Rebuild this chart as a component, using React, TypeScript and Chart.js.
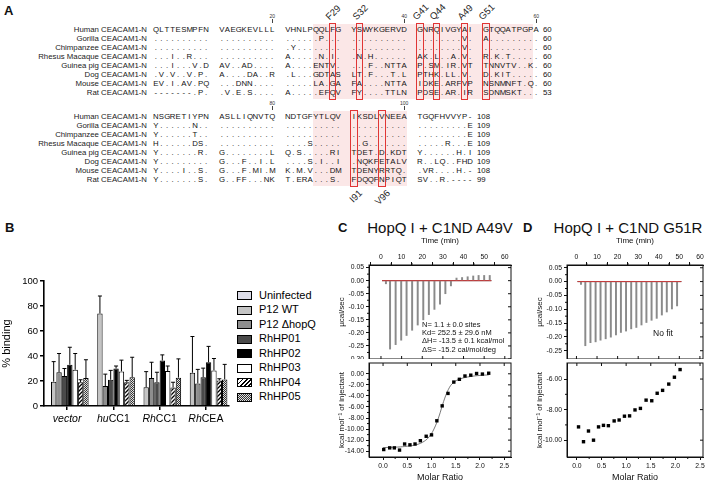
import React, { useEffect, useRef } from "react";
import { Chart, registerables } from "chart.js";
Chart.register(...registerables);

const FONT = "'Liberation Sans', Arial, Helvetica, sans-serif";

// ---------------- Panel A : alignment ----------------
const speciesNames = [
  "Human CEACAM1-N",
  "Gorilla CEACAM1-N",
  "Chimpanzee CEACAM1-N",
  "Rhesus Macaque CEACAM1-N",
  "Guinea pig CEACAM1-N",
  "Dog CEACAM1-N",
  "Mouse CEACAM1-N",
  "Rat CEACAM1-N",
];
const block1Seqs = [
  "QLTTESMPFN VAEGKEVLLL VHNLPQQLFG YSWYKGERVD GNRQIVGYAI GTQQATPGPA",
  ".......... .......... ......P... .......... ........V. A.........",
  ".......... .......... .Y........ .......... ........V. ..........",
  "...I..R... .......... A.....N.I. .N.H...... AK.L..A.V. R.K.T.....",
  "...I...V.D AV..AD.... A....ENTV. ...F..NTTA P.SM.IR.VT TNNVTV..K.",
  ".V.V..V.P. A....DA..R .L...GDTAS LT.F...T.L PTHK.LL.V. D.KIT.....",
  "EV.I.AV.PQ ...DNN.... .....LA.GA FA....NTTA IDKE.ARFVP NSNMNFT.Q.",
  "-------.P. .V.E.S.... A.....EFQV FY....TTLN PDSE.AR.IR SDNMSKT...",
];
const block1Counts = ["60", "60", "60", "60", "60", "60", "60", "53"];
const block2Seqs = [
  "NSGRETIYPN ASLLIQNVTQ NDTGFYTLQV IKSDLVNEEA TGQFHVVYP-",
  "Y......N.. .......... .......... .......... .........E",
  "Y......T.. .......... .......... .......... .........E",
  "H......DS. .......... ....S..... ..G....... .....R...E",
  "Y.......R. G........L Q.S.....RI TDET.D.KDT Y......H.I",
  "Y......... G...F..I.L ....S.I..I .NQKFETALV R..LQ..FHD",
  "Y....I..S. G...F.MI.M K.M.V...DM TDENYRRTQ. .VR....H.-",
  "Y.......S. G..FF...NK T.ERA...S. FDQQFNPIQT SV..R.----",
];
const block2Counts = ["108", "109", "109", "109", "109", "109", "108", "99"];
const block1Markers = [20, 40, 60];
const block2Markers = [80, 100];
const topSites = ["F29", "S32", "G41", "Q44", "A49", "G51"];
const bottomSites = ["I91", "V96"];

// ---------------- Panel B : binding ----------------
const bCatItalic = ["vector", "hu", "Rh", "Rh"];
const bCatPlain = ["", "CC1", "CC1", "CEA"];
const bSeriesNames = ["Uninfected", "P12 WT", "P12 ΔhopQ", "RhHP01", "RhHP02", "RhHP03", "RhHP04", "RhHP05"];
const uninfectedVals = [0.8, 0.8, 0.8, 0.8];
const uninfectedSD = [0, 0, 0, 0];
const p12wtVals = [19.5, 74, 15, 26.6];
const p12wtSD = [16, 14, 12.5, 29];
const p12dVals = [27, 16, 22.4, 18];
const p12dSD = [15, 9.5, 12.6, 11.3];
const hp01Vals = [24, 21, 19, 23];
const hp01SD = [6, 7.5, 8, 7.3];
const hp02Vals = [33, 30, 36.4, 35];
const hp02SD = [14, 2, 4.5, 12.7];
const hp03Vals = [29, 27.7, 28, 28.5];
const hp03SD = [13, 9, 4, 9.5];
const hp04Vals = [19, 19, 14.8, 20.5];
const hp04SD = [2, 1.5, 4.2, 1.3];
const hp05Vals = [22.4, 23, 22.7, 21.3];
const hp05SD = [14.6, 16, 15, 12];
const bYTicks = [0, 20, 40, 60, 80, 100];

// ---------------- ITC tick labels ----------------
const timeTicks = [0, 10, 20, 30, 40, 50, 60];
const molarTicks = [0, 0.5, 1.0, 1.5, 2.0, 2.5];
const cTopYTicks = [0.05, 0.0, -0.05, -0.1, -0.15, -0.2, -0.25, -0.3];
const cBotYTicks = [0, -2, -4, -6, -8, -10, -12, -14];
const dTopYTicks = [0.05, 0.0, -0.05, -0.1, -0.15, -0.2, -0.25];
const dBotYTicks = [-6, -8, -10];

// ---------------- Panel C : A49V ITC ----------------
const cInjTimes = [2.4, 4.4, 7.1, 9.8, 12.4, 15.1, 17.8, 20.5, 23.2, 25.9, 28.6, 31.2, 33.9, 36.6, 39.3, 42.0, 44.7, 47.3, 50.0, 52.7];
const cPeaks = [-0.012, -0.262, -0.245, -0.228, -0.21, -0.19, -0.17, -0.15, -0.13, -0.11, -0.09, -0.05, -0.02, 0.01, 0.012, 0.015, 0.018, 0.02, 0.02, 0.02];
const cBaseline = [0.5, 53.5];
const cMolar = [0.014, 0.137, 0.233, 0.34, 0.445, 0.555, 0.66, 0.77, 0.89, 1.0, 1.11, 1.22, 1.34, 1.46, 1.575, 1.69, 1.81, 1.93, 2.05, 2.18];
const cHeat = [-13.7, -13.4, -13.4, -13.8, -12.7, -12.85, -12.7, -12.1, -11.3, -11.05, -8.5, -5.8, -3.55, -1.5, -1.0, -0.4, -0.25, 0.05, -0.05, 0.1];
const cFitX = [0.0, 0.3, 0.5, 0.7, 0.85, 0.95, 1.05, 1.15, 1.25, 1.35, 1.45, 1.6, 1.8, 2.0, 2.18];
const cFitY = [-13.35, -13.25, -13.1, -12.8, -12.2, -11.4, -10.0, -7.8, -5.0, -2.8, -1.6, -0.9, -0.5, -0.3, -0.2];
const cStats = [
  "N= 1.1 ± 0.0 sites",
  "Kd= 252.5 ± 29.6 nM",
  "ΔH= -13.5 ± 0.1 kcal/mol",
  "ΔS= -15.2 cal/mol/deg",
];

// ---------------- Panel D : G51R ITC ----------------
const dInjTimes = [2.2, 4.3, 6.8, 9.3, 11.7, 14.2, 16.7, 19.2, 21.6, 24.1, 26.6, 29.1, 31.6, 34.0, 36.5, 39.0, 41.5, 43.9, 46.4, 48.9];
const dPeaks = [-0.01, -0.232, -0.221, -0.218, -0.212, -0.207, -0.201, -0.193, -0.184, -0.179, -0.171, -0.166, -0.157, -0.148, -0.14, -0.133, -0.121, -0.11, -0.099, -0.088];
const dBaseline = [0.5, 51];
const dMolar = [0.034, 0.135, 0.236, 0.338, 0.44, 0.54, 0.64, 0.757, 0.858, 0.966, 1.07, 1.18, 1.29, 1.405, 1.52, 1.63, 1.74, 1.865, 1.98, 2.095];
const dHeat = [-9.13, -10.1, -9.4, -10.0, -9.13, -9.03, -9.05, -8.74, -8.68, -8.43, -8.41, -8.02, -7.92, -7.38, -7.42, -6.93, -6.74, -6.33, -5.88, -5.38];

// ---------------- layout constants ----------------
const CHAR_W = 5.6;
const GROUP_W = 66;
const SEQ_X = 153;
const NAME_RIGHT = 147;
const ROW_H = 9;
const B1_Y = 30;
const B2_Y = 117;
const TICK_FONT = 6.8;

function colX(c: number) {
  return SEQ_X + Math.floor(c / 10) * GROUP_W + (c % 10) * CHAR_W;
}

const framePlugin = {
  id: "frame",
  afterDraw(chart: any) {
    const { ctx, chartArea: a } = chart;
    const xs = chart.scales.x;
    const ys = chart.scales.y;
    ctx.save();
    ctx.strokeStyle = "#111";
    ctx.lineWidth = 1;
    ctx.strokeRect(a.left, a.top, a.right - a.left, a.bottom - a.top);
    ctx.beginPath();
    const xv = xs.ticks.map((t: any) => t.value);
    const yv = ys.ticks.map((t: any) => t.value);
    xv.forEach((v: number, i: number) => {
      const px = xs.getPixelForValue(v);
      const yEdge = xs.position === "top" ? a.bottom : a.top;
      const dir = xs.position === "top" ? -1 : 1;
      ctx.moveTo(px, yEdge);
      ctx.lineTo(px, yEdge + dir * 3);
      if (i < xv.length - 1) {
        const pm = xs.getPixelForValue((v + xv[i + 1]) / 2);
        const edgeOut = xs.position === "top" ? a.top : a.bottom;
        const dOut = xs.position === "top" ? -1 : 1;
        ctx.moveTo(pm, edgeOut);
        ctx.lineTo(pm, edgeOut + dOut * 2);
      }
    });
    yv.forEach((v: number, i: number) => {
      const py = ys.getPixelForValue(v);
      ctx.moveTo(a.right, py);
      ctx.lineTo(a.right - 3, py);
      if (i < yv.length - 1) {
        const pm = ys.getPixelForValue((v + yv[i + 1]) / 2);
        ctx.moveTo(a.left, pm);
        ctx.lineTo(a.left - 2, pm);
      }
    });
    ctx.stroke();
    // y tick labels
    ctx.fillStyle = "#111";
    ctx.font = `${TICK_FONT}px ${FONT}`;
    ctx.textAlign = "right";
    ctx.textBaseline = "middle";
    yv.forEach((v: number) => {
      ctx.fillText(v.toFixed(2), a.left - 5, ys.getPixelForValue(v));
    });
    ctx.restore();
  },
};

function itcTop(times: number[], peaks: number[], base: number[], yTicks: number[], xmin: number, xmax: number, ymin: number, ymax: number, padRight: number): any {
  const tickFont = { size: TICK_FONT, family: FONT };
  return {
    type: "bar",
    data: {
      datasets: [
        { type: "line", data: base.map((t) => ({ x: t, y: 0 })), borderColor: "#222", borderWidth: 1, pointRadius: 0, order: 2 },
        { type: "bar", data: times.map((t, i) => ({ x: t, y: [0, peaks[i]] })), backgroundColor: "#8a8a8a", barThickness: 1.3, order: 1 },
        { type: "line", data: base.map((t) => ({ x: t, y: 0 })), borderColor: "#e04040", borderWidth: 0.9, pointRadius: 0, order: 0 },
      ],
    },
    options: {
      responsive: false,
      animation: false,
      layout: { padding: { top: 0, bottom: 0, left: 0, right: padRight } },
      plugins: { legend: { display: false }, tooltip: { enabled: false } },
      scales: {
        x: {
          type: "linear", position: "top", min: xmin, max: xmax, offset: false,
          afterBuildTicks: (s: any) => { s.ticks = timeTicks.map((v) => ({ value: v })); },
          ticks: { autoSkip: false, font: tickFont, color: "#111", maxRotation: 0, padding: 1 },
          grid: { drawOnChartArea: false, tickLength: 3, color: "#111" },
          border: { color: "#111" },
          title: { display: true, text: "Time (min)", font: { size: 8, family: FONT }, color: "#111", padding: { top: 0, bottom: 2 } },
          afterFit: (s: any) => { s.height = 29; },
        },
        y: {
          min: ymin, max: ymax,
          afterBuildTicks: (s: any) => { s.ticks = yTicks.map((v) => ({ value: v })); },
          ticks: { display: false },
          grid: { drawOnChartArea: false, tickLength: 3, color: "#111" },
          border: { color: "#111" },
          title: { display: true, text: "µcal/sec", font: { size: 8, family: FONT }, color: "#111", padding: { top: 2, bottom: 2 } },
          afterFit: (s: any) => { s.width = 34; },
        },
      },
    },
    plugins: [framePlugin],
  };
}

function itcBottom(molar: number[], heat: number[], fitX: number[] | null, fitY: number[] | null, yTicks: number[], xmin: number, xmax: number, ymin: number, ymax: number, padRight: number): any {
  const tickFont = { size: TICK_FONT, family: FONT };
  const datasets: any[] = [];
  if (fitX && fitY) {
    datasets.push({ type: "line", data: fitX.map((x, i) => ({ x, y: fitY[i] })), borderColor: "#555", borderWidth: 0.8, pointRadius: 0, tension: 0.4, order: 1 });
  }
  datasets.push({ type: "scatter", data: molar.map((x, i) => ({ x, y: heat[i] })), pointStyle: "rect", pointRadius: 2.4, backgroundColor: "#000", borderColor: "#000", borderWidth: 0, order: 0 });
  return {
    type: "scatter",
    data: { datasets },
    options: {
      responsive: false,
      animation: false,
      layout: { padding: { top: 0, bottom: 0, left: 0, right: padRight } },
      plugins: { legend: { display: false }, tooltip: { enabled: false } },
      scales: {
        x: {
          type: "linear", position: "bottom", min: xmin, max: xmax,
          afterBuildTicks: (s: any) => { s.ticks = molarTicks.map((v) => ({ value: v })); },
          ticks: { autoSkip: false, font: tickFont, color: "#111", maxRotation: 0, padding: 2, callback: (v: any) => Number(v).toFixed(1) },
          grid: { drawOnChartArea: false, tickLength: 3, color: "#111" },
          border: { color: "#111" },
          title: { display: true, text: "Molar Ratio", font: { size: 9, family: FONT }, color: "#111", padding: { top: 1, bottom: 0 } },
          afterFit: (s: any) => { s.height = 26; },
        },
        y: {
          min: ymin, max: ymax,
          afterBuildTicks: (s: any) => { s.ticks = yTicks.map((v) => ({ value: v })); },
          ticks: { display: false },
          grid: { drawOnChartArea: false, tickLength: 3, color: "#111" },
          border: { color: "#111" },
          title: { display: true, text: "kcal mol⁻¹ of injectant", font: { size: 8, family: FONT }, color: "#111", padding: { top: 2, bottom: 2 } },
          afterFit: (s: any) => { s.width = 34; },
        },
      },
    },
    plugins: [framePlugin],
  };
}

function makeHatch(ctx: CanvasRenderingContext2D) {
  const c = document.createElement("canvas");
  c.width = 4; c.height = 4;
  const g = c.getContext("2d")!;
  g.fillStyle = "#fff"; g.fillRect(0, 0, 4, 4);
  g.strokeStyle = "#000"; g.lineWidth = 1.3;
  g.beginPath();
  g.moveTo(0, 4); g.lineTo(4, 0);
  g.moveTo(-1, 1); g.lineTo(1, -1);
  g.moveTo(3, 5); g.lineTo(5, 3);
  g.stroke();
  return ctx.createPattern(c, "repeat");
}
function makeDots(ctx: CanvasRenderingContext2D) {
  const c = document.createElement("canvas");
  c.width = 2; c.height = 2;
  const g = c.getContext("2d")!;
  g.fillStyle = "#e0e0e0"; g.fillRect(0, 0, 2, 2);
  g.fillStyle = "#333"; g.fillRect(0, 0, 1, 1); g.fillRect(1, 1, 1, 1);
  return ctx.createPattern(c, "repeat");
}

const Canvas = React.forwardRef<HTMLCanvasElement, { left: number; top: number; w: number; h: number }>(
  ({ left, top, w, h }, ref) => (
    <canvas ref={ref} width={w} height={h} style={{ position: "absolute", left, top, width: w, height: h }} />
  )
);

function Txt(props: { x: number; y: number; size: number; text: string; bold?: boolean; align?: "left" | "center" | "right"; color?: string; width?: number }) {
  const { x, y, size, text, bold, align = "left", color = "#111", width = 150 } = props;
  let left = x;
  if (align === "center") left = x - width / 2;
  if (align === "right") left = x - width;
  return (
    <div style={{ position: "absolute", left, top: y - size * 0.6, width, height: size * 1.2, lineHeight: `${size * 1.2}px`, fontSize: size, fontWeight: bold ? "bold" : "normal", textAlign: align, color, whiteSpace: "nowrap", fontFamily: FONT, pointerEvents: "none" }}>
      {text}
    </div>
  );
}

function SeqBlock(props: { seqs: string[]; counts: string[]; y0: number; markers: number[]; offset: number; shadeFrom: number; shadeTo: number; top: string[]; bottom: string[] }) {
  const { seqs, counts, y0, markers, offset, shadeFrom, shadeTo, top, bottom } = props;
  const els: any[] = [];
  const nRows = seqs.length;
  const shadeTop = y0 - 6;
  const shadeH = (nRows - 1) * ROW_H + 12;
  els.push(<div key="shade" style={{ position: "absolute", left: colX(shadeFrom), top: shadeTop, width: colX(shadeTo) + CHAR_W - colX(shadeFrom), height: shadeH, background: "rgba(242,170,170,0.28)" }} />);
  markers.forEach((m) => {
    const cx = colX(m - offset - 1) + CHAR_W / 2;
    els.push(<div key={"mk" + m} style={{ position: "absolute", left: cx - 10, top: y0 - 17, width: 20, textAlign: "center", fontSize: 5, lineHeight: "6px", color: "#333", fontFamily: FONT }}>{String(m)}</div>);
    els.push(<div key={"mt" + m} style={{ position: "absolute", left: cx - 0.5, top: y0 - 11, width: 1, height: 4, background: "#444" }} />);
  });
  seqs.forEach((s, r) => {
    const y = y0 + r * ROW_H;
    els.push(<div key={"n" + r} style={{ position: "absolute", left: NAME_RIGHT - 140, top: y - 5, width: 140, textAlign: "right", fontSize: 7.8, lineHeight: "10px", color: "#222", fontFamily: FONT, whiteSpace: "nowrap" }}>{speciesNames[r]}</div>);
    const groups = s.split(" ");
    groups.forEach((g, gi) => {
      els.push(
        <div key={"g" + r + "_" + gi} style={{ position: "absolute", left: SEQ_X + gi * GROUP_W, top: y - 5, height: 10, display: "flex", fontSize: 7.8, lineHeight: "10px", color: "#111", fontFamily: FONT }}>
          {g.split("").map((ch, ci) => (
            <span key={ci} style={{ display: "inline-block", width: CHAR_W, textAlign: "center" }}>{ch}</span>
          ))}
        </div>
      );
    });
    els.push(<div key={"c" + r} style={{ position: "absolute", left: SEQ_X + (groups.length - 1) * GROUP_W + 10 * CHAR_W + 4, top: y - 5, fontSize: 7.8, lineHeight: "10px", color: "#111", fontFamily: FONT }}>{counts[r]}</div>);
  });
  const boxTop = y0 - 7;
  const boxH = (nRows - 1) * ROW_H + 14;
  top.forEach((lab) => {
    const c = parseInt(lab.slice(1), 10) - offset - 1;
    const x = colX(c);
    els.push(<div key={"bx" + lab} style={{ position: "absolute", left: x - 1, top: boxTop, width: CHAR_W + 2, height: boxH, border: "1.2px solid #e03535", boxSizing: "border-box" }} />);
    els.push(<div key={"lb" + lab} style={{ position: "absolute", left: x + 1, top: boxTop - 11, height: 10, lineHeight: "10px", fontSize: 9.5, fontFamily: FONT, color: "#222", whiteSpace: "nowrap", transformOrigin: "0% 100%", transform: "rotate(-45deg)" }}>{lab}</div>);
  });
  bottom.forEach((lab) => {
    const c = parseInt(lab.slice(1), 10) - offset - 1;
    const x = colX(c);
    els.push(<div key={"bx" + lab} style={{ position: "absolute", left: x - 1, top: boxTop, width: CHAR_W + 2, height: boxH, border: "1.2px solid #e03535", boxSizing: "border-box" }} />);
    els.push(<div key={"lb" + lab} style={{ position: "absolute", left: x + CHAR_W / 2 + 3 - 22, top: boxTop + boxH + 1, width: 22, height: 10, lineHeight: "10px", fontSize: 9.5, fontFamily: FONT, color: "#222", textAlign: "right", whiteSpace: "nowrap", transformOrigin: "100% 0%", transform: "rotate(-45deg)" }}>{lab}</div>);
  });
  return <>{els}</>;
}

export default function App() {
  const bRef = useRef<HTMLCanvasElement>(null);
  const cTopRef = useRef<HTMLCanvasElement>(null);
  const cBotRef = useRef<HTMLCanvasElement>(null);
  const dTopRef = useRef<HTMLCanvasElement>(null);
  const dBotRef = useRef<HTMLCanvasElement>(null);

  useEffect(() => {
    const charts: Chart[] = [];
    const bctx = bRef.current!.getContext("2d")!;
    const fills: any[] = ["#dcdce8", "#c4c4c4", "#8e8e8e", "#4a4a4a", "#000000", "#ffffff", makeHatch(bctx), makeDots(bctx)];
    const vals = [uninfectedVals, p12wtVals, p12dVals, hp01Vals, hp02Vals, hp03Vals, hp04Vals, hp05Vals];
    const sds = [uninfectedSD, p12wtSD, p12dSD, hp01SD, hp02SD, hp03SD, hp04SD, hp05SD];

    const errPlugin = {
      id: "errbars",
      afterDatasetsDraw(chart: any) {
        const ctx = chart.ctx;
        const ys = chart.scales.y;
        ctx.save();
        ctx.strokeStyle = "#000";
        ctx.lineWidth = 1;
        chart.data.datasets.forEach((ds: any, i: number) => {
          const meta = chart.getDatasetMeta(i);
          meta.data.forEach((bar: any, j: number) => {
            const sd = sds[i][j];
            if (!sd) return;
            const topPx = ys.getPixelForValue(vals[i][j] + sd);
            ctx.beginPath();
            ctx.moveTo(bar.x, bar.y);
            ctx.lineTo(bar.x, topPx);
            ctx.moveTo(bar.x - 2, topPx);
            ctx.lineTo(bar.x + 2, topPx);
            ctx.stroke();
          });
        });
        ctx.restore();
      },
    };
    const labelPlugin = {
      id: "mixedLabels",
      afterDraw(chart: any) {
        const ctx = chart.ctx;
        const xs = chart.scales.x;
        const y = chart.chartArea.bottom + 13;
        ctx.save();
        ctx.fillStyle = "#000";
        ctx.textBaseline = "middle";
        ctx.textAlign = "left";
        bCatItalic.forEach((it, i) => {
          const plain = bCatPlain[i];
          const px = xs.getPixelForValue(i);
          ctx.font = `italic 10.5px ${FONT}`;
          const w1 = ctx.measureText(it).width;
          ctx.font = `10.5px ${FONT}`;
          const w2 = ctx.measureText(plain).width;
          const x0 = px - (w1 + w2) / 2;
          ctx.font = `italic 10.5px ${FONT}`;
          ctx.fillText(it, x0, y);
          ctx.font = `10.5px ${FONT}`;
          ctx.fillText(plain, x0 + w1, y);
        });
        ctx.restore();
      },
    };

    charts.push(
      new Chart(bRef.current!, {
        type: "bar",
        data: {
          labels: bCatItalic.map((s, i) => s + bCatPlain[i]),
          datasets: bSeriesNames.map((name, i) => ({
            label: name,
            data: vals[i],
            backgroundColor: fills[i],
            borderColor: "#000",
            borderWidth: 1,
            barPercentage: 1,
            categoryPercentage: 0.93,
          })),
        },
        options: {
          responsive: false,
          animation: false,
          layout: { padding: { top: 11, right: 7, left: 0, bottom: 0 } },
          plugins: { legend: { display: false }, tooltip: { enabled: false } },
          scales: {
            x: {
              grid: { display: true, drawOnChartArea: false, offset: false, tickLength: 4, color: "#000", lineWidth: 1.5 },
              border: { display: true, color: "#000", width: 1.6 },
              ticks: { display: false },
              afterFit: (s: any) => { s.height = 24; },
            },
            y: {
              min: 0, max: 100,
              afterBuildTicks: (s: any) => { s.ticks = bYTicks.map((v) => ({ value: v })); },
              ticks: { autoSkip: false, font: { size: 9.5, family: FONT }, color: "#000", padding: 2 },
              grid: { drawOnChartArea: false, tickLength: 4, color: "#000", lineWidth: 1.5 },
              border: { color: "#000", width: 1.6 },
              title: { display: true, text: "% binding", font: { size: 11, family: FONT }, color: "#000", padding: { top: 0, bottom: 2 } },
              afterFit: (s: any) => { s.width = 44; },
            },
          },
        } as any,
        plugins: [errPlugin, labelPlugin],
      } as any)
    );

    charts.push(new Chart(cTopRef.current!, itcTop(cInjTimes, cPeaks, cBaseline, cTopYTicks, -5.8, 63, -0.30, 0.06, 9)));
    charts.push(new Chart(cBotRef.current!, itcBottom(cMolar, cHeat, cFitX, cFitY, cBotYTicks, -0.29, 2.64, -15.05, 1.95, 9)));
    charts.push(new Chart(dTopRef.current!, itcTop(dInjTimes, dPeaks, dBaseline, dTopYTicks, -4.6, 61.5, -0.28, 0.06, 6)));
    charts.push(new Chart(dBotRef.current!, itcBottom(dMolar, dHeat, null, null, dBotYTicks, -0.2, 2.56, -11.1, -4.95, 6)));

    return () => charts.forEach((c) => c.destroy());
  }, []);

  const legendFills = [
    "#dcdce8",
    "#c4c4c4",
    "#8e8e8e",
    "#4a4a4a",
    "#000000",
    "#ffffff",
    "repeating-linear-gradient(135deg, #000 0 1.2px, #fff 1.2px 3px)",
    "repeating-conic-gradient(#333 0 25%, #e0e0e0 0 50%) 0 0/2px 2px",
  ];

  return (
    <div style={{ position: "fixed", left: 0, top: 0, width: 709, height: 483, background: "#fff", overflow: "hidden", fontFamily: FONT }}>
      {/* Panel A */}
      <Txt x={4} y={11} size={13} text="A" bold />
      <SeqBlock seqs={block1Seqs} counts={block1Counts} y0={B1_Y} markers={block1Markers} offset={0} shadeFrom={25} shadeTo={58} top={topSites} bottom={[]} />
      <SeqBlock seqs={block2Seqs} counts={block2Counts} y0={B2_Y} markers={block2Markers} offset={60} shadeFrom={25} shadeTo={39} top={[]} bottom={bottomSites} />

      {/* Panel B */}
      <Txt x={5} y={228} size={13} text="B" bold width={20} />
      <Canvas ref={bRef} left={0} top={270} w={236} h={160} />
      {bSeriesNames.map((n, i) => (
        <React.Fragment key={n}>
          <div style={{ position: "absolute", left: 237, top: 295.5 + i * 14.5 - 4.5, width: 15, height: 9, border: "1.3px solid #000", boxSizing: "border-box", background: legendFills[i] }} />
          <Txt x={259} y={295.5 + i * 14.5} size={11} text={n} color="#000" width={75} />
        </React.Fragment>
      ))}

      {/* Panel C */}
      <Txt x={338} y={228} size={13} text="C" bold width={20} />
      <Txt x={440} y={228} size={15} text="HopQ I + C1ND A49V" align="center" width={170} />
      <Canvas ref={cTopRef} left={335} top={236} w={185} h={123} />
      <Canvas ref={cBotRef} left={335} top={359} w={185} h={124} />
      {cStats.map((s, i) => (
        <Txt key={s} x={422} y={324 + i * 8.4} size={7.5} text={s} width={88} />
      ))}

      {/* Panel D */}
      <Txt x={523} y={228} size={13} text="D" bold width={20} />
      <Txt x={628} y={228} size={15} text="HopQ I + C1ND G51R" align="center" width={170} />
      <Canvas ref={dTopRef} left={533} top={236} w={176} h={123} />
      <Canvas ref={dBotRef} left={533} top={359} w={176} h={124} />
      <Txt x={663} y={333} size={8.5} text="No fit" align="center" width={40} />
    </div>
  );
}
